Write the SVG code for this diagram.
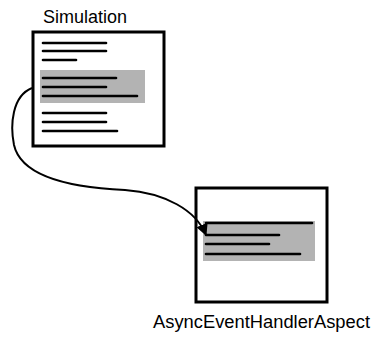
<svg xmlns="http://www.w3.org/2000/svg" width="372" height="340" viewBox="0 0 372 340">
  <style>
    .box { fill: #fff; stroke: #000; stroke-width: 3; }
    .hl { fill: #b3b3b3; stroke: none; }
    .ln { stroke: #000; stroke-width: 2.6; stroke-linecap: round; fill: none; }
    .lbl { font-family: "Liberation Sans", Arial, sans-serif; font-size: 17.5px; fill: #000; }
    .conn { stroke: #000; stroke-width: 2; fill: none; }
  </style>
  <defs>
    <marker id="arrow" viewBox="0 0 10 10" refX="9" refY="5" markerWidth="6" markerHeight="6" orient="auto" markerUnits="strokeWidth">
      <path d="M0,0 L10,5 L0,10 z" fill="#000"/>
    </marker>
  </defs>

  <g id="simulation">
    <rect class="box" x="33" y="32" width="131" height="114"/>
    <rect class="hl" x="40" y="70" width="105" height="33"/>
    <line class="ln" x1="43" y1="43" x2="106" y2="43"/>
    <line class="ln" x1="43" y1="51" x2="106" y2="51"/>
    <line class="ln" x1="43" y1="60" x2="76" y2="60"/>
    <line class="ln" x1="43" y1="78" x2="116" y2="78"/>
    <line class="ln" x1="43" y1="87" x2="106" y2="87"/>
    <line class="ln" x1="43" y1="96" x2="137" y2="96"/>
    <line class="ln" x1="43" y1="113" x2="106" y2="113"/>
    <line class="ln" x1="43" y1="122" x2="106" y2="122"/>
    <line class="ln" x1="43" y1="131" x2="117" y2="131"/>
    <text class="lbl" x="43" y="23" textLength="84" lengthAdjust="spacingAndGlyphs">Simulation</text>
  </g>

  <g id="async-event-handler-aspect">
    <rect class="box" x="196" y="188" width="131" height="114"/>
    <rect class="hl" x="203" y="221" width="112" height="40"/>
    <line class="ln" x1="206" y1="223" x2="312" y2="223"/>
    <line class="ln" x1="206" y1="235" x2="279" y2="235"/>
    <line class="ln" x1="206" y1="244" x2="269" y2="244"/>
    <line class="ln" x1="206" y1="254" x2="300" y2="254"/>
    <text class="lbl" x="153" y="328" textLength="217" lengthAdjust="spacingAndGlyphs">AsyncEventHandlerAspect</text>
  </g>

  <g id="connectors">
    <path class="conn" marker-end="url(#arrow)" d="M32,88 C12,96 10,125 14,145 C22,180 80,188 125,190 C165,193 196,210 206,235"/>
  </g>
</svg>
